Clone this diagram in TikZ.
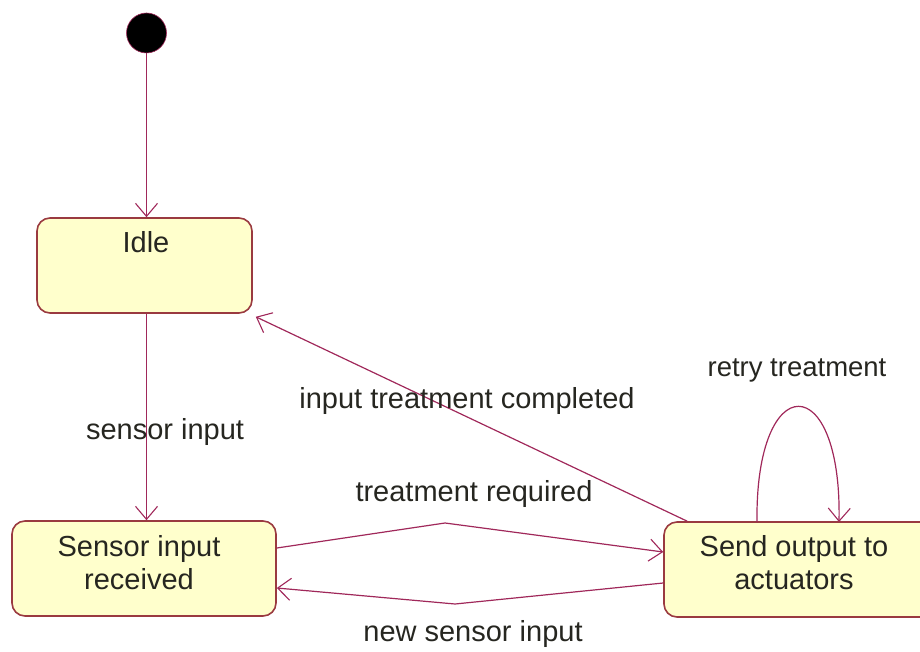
\documentclass[tikz,border=0pt]{standalone}
\usepackage{fontspec}
\setmainfont{Liberation Sans}
\usetikzlibrary{arrows.meta,calc}
\definecolor{edgecol}{HTML}{A0285A}
\definecolor{boxborder}{HTML}{9A3A40}
\definecolor{boxfill}{HTML}{FFFFCC}
\definecolor{txt}{HTML}{262620}
\begin{document}
\begin{tikzpicture}[x=1pt,y=-1pt,
  statebox/.style={draw=boxborder,line width=1.6pt,fill=boxfill,rounded corners=13pt,
    minimum height=95pt,inner sep=0pt},
  edge/.style={draw=edgecol,line width=1.2pt,-{Straight Barb[length=13pt,width=22pt,line width=1.1pt]}},
  lbl/.style={text=txt,font=\fontsize{29}{33}\selectfont,inner sep=0pt,align=center}]
\useasboundingbox (0,0) rectangle (920,652);
\node[circle,fill=black,draw=edgecol,line width=0.6pt,minimum size=40pt,inner sep=0pt] (init) at (146.5,33) {};
\node[statebox,minimum width=215pt] (idle) at (144.5,265.5) {};
\node[lbl] (idletxt) at (146,242) {Idle};
\node[statebox,minimum width=264pt] (sensor) at (144,568.5) {};
\node[lbl] (sensortxt) at (139,563) {Sensor input\\received};
\node[statebox,minimum width=290pt] (send) at (809,569.5) {};
\node[lbl] (sendtxt) at (794,563) {Send output to\\actuators};
% connectors
\draw[edge] (init.south) -- (init.south |- idle.north);
\draw[edge] (init.south |- idle.south) -- (init.south |- sensor.north);
\coordinate (c1) at ($(send.north west)+(24,0)$);
\coordinate (c2) at ($(idle.south east)+(3,3)$);
\draw[edge] (c1) -- (c2);
\coordinate (tr1) at (445,523);
\draw[edge] (sensor.east |- 0,548) -- (tr1) -- (send.west |- 0,552);
\coordinate (ns1) at (455,604);
\draw[edge] (send.west |- 0,583) -- (ns1) -- (sensor.east |- 0,588);
\coordinate (l1) at (757,522);
\coordinate (l2) at (839,522);
\draw[edge] (l1) .. controls (755,368) and (842,368) .. (l2);
% labels
\node[lbl] (lsi) at (165,432) {sensor input};
\node[lbl] (litc) at (467,401) {input treatment completed};
\node[lbl] (ltr) at (474,494) {treatment required};
\node[lbl] (lnsi) at (473,634) {new sensor input};
\node[lbl,font=\fontsize{27.5}{33}\selectfont] (lrt) at (797,370) {retry treatment};
\end{tikzpicture}
\end{document}
